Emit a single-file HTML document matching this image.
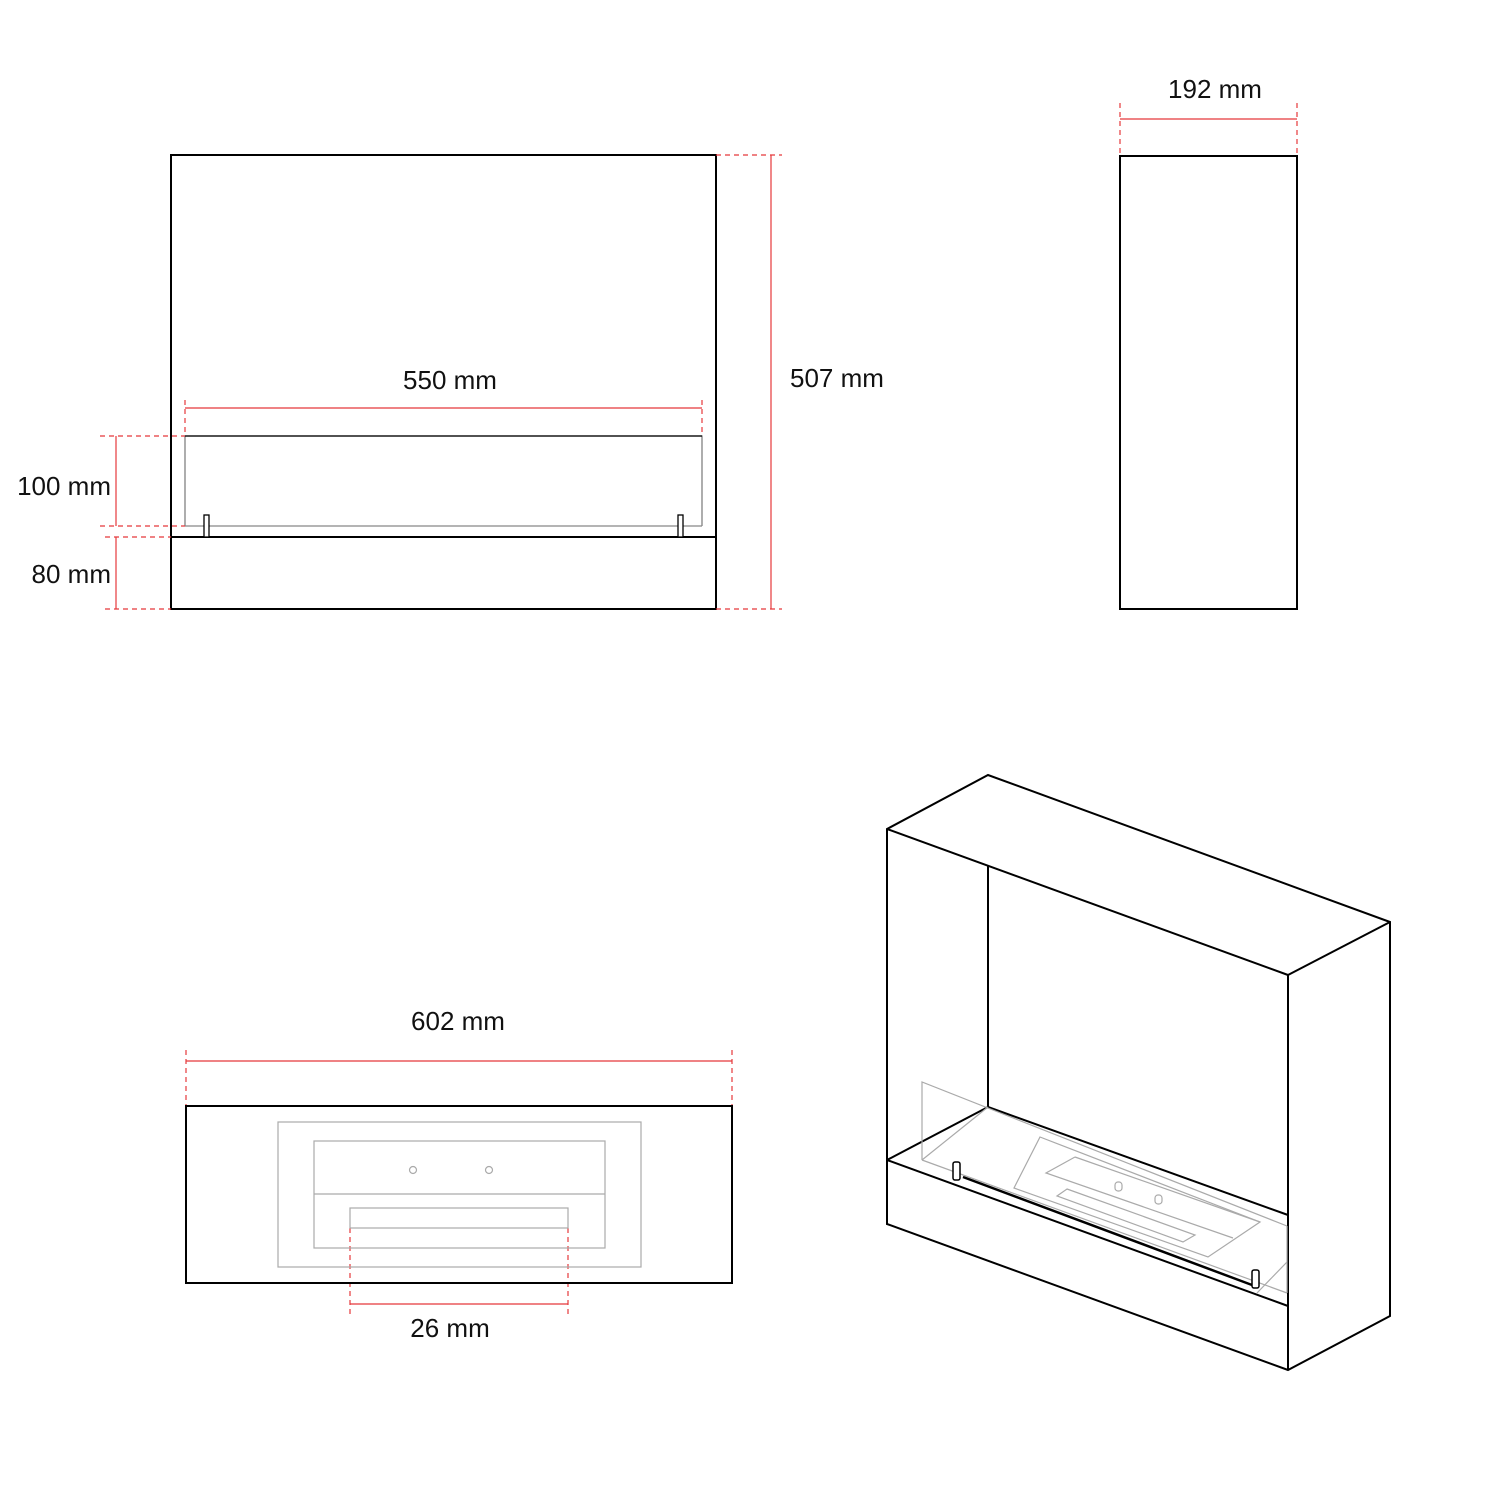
<!DOCTYPE html>
<html><head><meta charset="utf-8"><style>
html,body{margin:0;padding:0;background:#fff}
svg{display:block}
text{font-family:"Liberation Sans",sans-serif;font-size:26px;fill:#111}
</style></head><body>
<svg width="1500" height="1500" viewBox="0 0 1500 1500" xmlns="http://www.w3.org/2000/svg">
<g fill="none" stroke-linecap="butt">
<rect x="171" y="155" width="545" height="454" stroke="#000" stroke-width="2"/>
<line x1="171" y1="537" x2="716" y2="537" stroke="#000" stroke-width="2"/>
<polyline points="185,526 185,436 702,436 702,526" stroke="#777" stroke-width="1.2"/>
<line x1="185" y1="436" x2="702" y2="436" stroke="#000" stroke-width="1.2"/>
<line x1="185" y1="526" x2="702" y2="526" stroke="#888" stroke-width="1.2"/>
<rect x="204" y="515" width="5" height="22" stroke="#000" stroke-width="1.3" fill="#fff"/>
<rect x="678" y="515" width="5" height="22" stroke="#000" stroke-width="1.3" fill="#fff"/>
<g stroke="#e5383b" stroke-width="1.2">
<line x1="185" y1="408" x2="702" y2="408"/>
<line x1="771" y1="155" x2="771" y2="609"/>
<line x1="116" y1="436" x2="116" y2="526"/>
<line x1="116" y1="537" x2="116" y2="609"/>
<line x1="1120" y1="119" x2="1297" y2="119"/>
<line x1="186" y1="1061" x2="732" y2="1061"/>
<line x1="350" y1="1304" x2="568" y2="1304"/>
</g>
<g stroke="#e5383b" stroke-width="1.2" stroke-dasharray="5,4">
<line x1="185" y1="400" x2="185" y2="436"/>
<line x1="702" y1="400" x2="702" y2="436"/>
<line x1="716" y1="155" x2="782" y2="155"/>
<line x1="716" y1="609" x2="782" y2="609"/>
<line x1="100" y1="436" x2="185" y2="436"/>
<line x1="100" y1="526" x2="185" y2="526"/>
<line x1="105" y1="537" x2="171" y2="537"/>
<line x1="105" y1="609" x2="171" y2="609"/>
<line x1="1120" y1="103" x2="1120" y2="156"/>
<line x1="1297" y1="103" x2="1297" y2="156"/>
<line x1="186" y1="1050" x2="186" y2="1110"/>
<line x1="732" y1="1050" x2="732" y2="1110"/>
<line x1="350" y1="1228" x2="350" y2="1316"/>
<line x1="568" y1="1228" x2="568" y2="1316"/>
</g>
<rect x="1120" y="156" width="177" height="453" stroke="#000" stroke-width="2"/>
<rect x="186" y="1106" width="546" height="177" stroke="#000" stroke-width="2"/>
<g stroke="#aaa" stroke-width="1.2">
<rect x="278" y="1122" width="363" height="145"/>
<rect x="314" y="1141" width="291" height="107"/>
<line x1="314" y1="1194" x2="605" y2="1194"/>
<rect x="350" y="1208" width="218" height="20"/>
<circle cx="413" cy="1170" r="3.5"/>
<circle cx="489" cy="1170" r="3.5"/>
</g>
<g stroke="#000" stroke-width="2" stroke-linejoin="miter">
<polygon points="887,829 988,775 1390,922 1390,1316 1288,1370 887,1224"/>
<line x1="887" y1="829" x2="1288" y2="975"/>
<line x1="1288" y1="975" x2="1390" y2="922"/>
<line x1="1288" y1="975" x2="1288" y2="1370"/>
<line x1="988" y1="866" x2="988" y2="1107"/>
<line x1="988" y1="1107" x2="1288" y2="1215"/>
<line x1="887" y1="1160" x2="1288" y2="1306"/>
<line x1="887" y1="1160" x2="988" y2="1107"/>
<line x1="963" y1="1177" x2="1252" y2="1285" stroke-width="2.5"/>
</g>
<g stroke="#aaa" stroke-width="1.2">
<polyline points="922,1160 922,1082 1287,1226"/>
<line x1="922" y1="1160" x2="1287" y2="1293"/>
<line x1="922" y1="1160" x2="988" y2="1107"/>
<line x1="1287" y1="1226" x2="1287" y2="1293"/>
<line x1="1257" y1="1293" x2="1287" y2="1262"/>
<polygon points="1040,1137 1260,1222 1208,1257 1014,1188"/>
<polyline points="1075,1157 1046,1173 1233,1238"/>
<line x1="1075" y1="1157" x2="1260" y2="1222"/>
<polygon points="1067,1189 1195,1235 1183,1242 1057,1196"/>
<rect x="1115" y="1182" width="7" height="9" rx="3"/>
<rect x="1155" y="1195" width="7" height="9" rx="3"/>
</g>
<g stroke="#000" stroke-width="1.5" fill="#fff">
<rect x="953" y="1162" width="7" height="18" rx="2"/>
<rect x="1252" y="1270" width="7" height="18" rx="2"/>
</g>
</g>
<text x="450" y="389" text-anchor="middle">550 mm</text>
<text x="790" y="387">507 mm</text>
<text x="111" y="495" text-anchor="end">100 mm</text>
<text x="111" y="583" text-anchor="end">80 mm</text>
<text x="1215" y="98" text-anchor="middle">192 mm</text>
<text x="458" y="1030" text-anchor="middle">602 mm</text>
<text x="450" y="1337" text-anchor="middle">26 mm</text>
</svg>
</body></html>
